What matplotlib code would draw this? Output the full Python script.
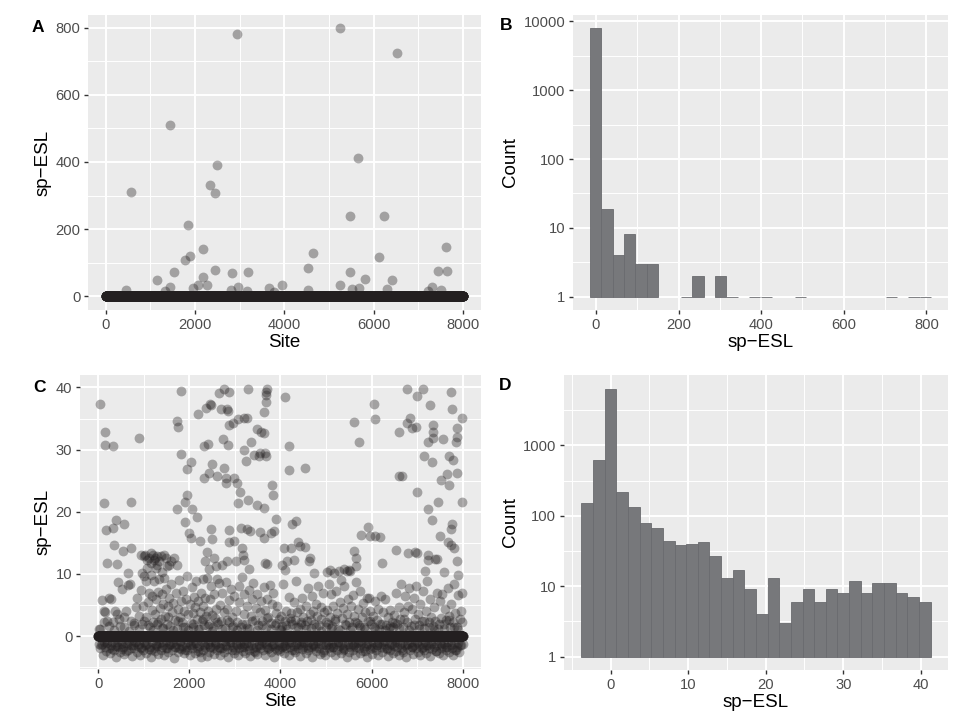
import numpy as np
import matplotlib.pyplot as plt
from matplotlib.ticker import FixedLocator

plt.rcParams['font.family'] = ['Liberation Sans', 'DejaVu Sans']

n_sites = 8000

# ---- Panel A data: sites with non-zero sp-ESL (all other sites are 0) ----
a_points = [
    (2946, 782), (5249, 797.4), (6520, 724), (1436, 510), (2497, 391), (5638, 412),
    (2333, 331), (2445, 307), (553, 311), (1839, 212), (5458, 238), (6221, 238),
    (2183, 142), (7619, 148), (4628, 129), (6124, 116), (1780, 109), (1884, 120),
    (4516, 83), (2440, 80), (1525, 73), (2834, 71), (3178, 73), (5466, 72),
    (7440, 76), (7642, 76), (1137, 48.5), (2176, 57), (5795, 51), (6415, 49.5),
    (456, 20), (1431, 28), (1331, 15), (1944, 24), (2071, 35), (2273, 35),
    (2796, 20), (2950, 27), (3170, 16), (3649, 24), (3948, 33), (3768, 14),
    (4531, 19), (5240, 33), (5511, 23), (5660, 26), (6296, 22), (7298, 27),
    (7515, 20), (7223, 16),
]

# ---- Panel B: histogram of panel A values (bin centres and counts) ----
b_binwidth = 27.52
b_centers = [-0.6, 26.9, 54.4, 81.9, 109.4, 137.0, 219.5, 247.0, 302.1, 329.6,
             384.6, 412.2, 494.7, 714.9, 769.9, 797.4]
b_counts = [7920, 19, 4, 8, 3, 3, 1, 2, 2, 1, 1, 1, 1, 1, 1, 1]

# ---- Panel C data: sites with non-zero sp-ESL (all other sites are 0) ----
c_high = [
    (36, 37.3), (153, 32.8), (146, 30.8), (328, 30.5), (117, 21.4), (168, 17.1),
    (336, 17.4), (394, 18.7), (569, 18.0), (340, 14.6), (555, 13.7), (730, 14.2),
    (715, 21.5), (890, 31.8), (190, 11.8), (409, 11.6), (657, 10.2), (934, 13.0),
    (1022, 13.1), (1080, 12.2), (1007, 12.9), (1117, 12.6), (1197, 13.0), (1241, 12.5),
    (1299, 12.8), (1372, 12.9), (1445, 13.1), (1496, 12.6), (1555, 11.4), (1606, 12.1),
    (1664, 12.5), (1290, 11.4), (1168, 11.7), (1066, 10.9), (971, 10.1), (1518, 11.2),
    (1723, 11.5), (1263, 10.9), (1409, 10.3), (1150, 13.3), (1220, 12.2), (1340, 12.0),
    (1737, 34.6), (1759, 33.7), (1817, 39.5), (1810, 29.3), (1737, 20.5), (1905, 21.6),
    (1956, 22.7), (2036, 28.0), (1950, 26.8), (2051, 20.4), (2000, 16.5), (2040, 15.7),
    (2175, 19.1), (2190, 35.7), (2321, 30.5), (2409, 30.9), (2358, 36.7), (2445, 37.4),
    (2474, 37.2), (2315, 25.4), (2431, 26.3), (2504, 27.7), (2598, 25.7), (2650, 39.1),
    (2686, 36.6), (2744, 31.7), (2766, 39.7), (2832, 36.6), (2876, 39.3), (2847, 36.2),
    (2854, 30.7), (2760, 27.0), (2810, 25.5), (2796, 24.6), (2978, 25.5), (3036, 24.6),
    (2870, 34.0), (2949, 34.2), (3066, 34.9), (3197, 35.1), (3270, 35.1), (3285, 39.8),
    (3190, 29.9), (3241, 28.2), (3358, 31.2), (3416, 29.1), (3489, 33.3), (3562, 32.9),
    (3635, 32.6), (3518, 28.9), (3547, 29.5), (3630, 36.1), (3686, 39.2), (3693, 38.8),
    (3708, 39.7), (3679, 37.7), (3671, 29.5), (3675, 29.0), (3817, 24.3), (3825, 22.7),
    (3898, 18.8), (3640, 20.6), (3474, 21.1), (3285, 21.9), (3117, 23.2), (3060, 21.4),
    (3139, 17.4), (3270, 17.2), (3328, 16.9), (2868, 17.1), (2862, 15.2), (2978, 15.3),
    (2482, 17.3), (2496, 15.6), (2380, 13.6), (2540, 12.5), (2336, 12.0), (2438, 10.8),
    (2584, 11.3), (2723, 11.4), (2832, 12.0), (3015, 12.0), (3161, 14.1), (3182, 13.1),
    (3200, 12.2), (3307, 10.8), (3547, 16.8), (3635, 15.7), (3796, 16.5), (3854, 16.9),
    (3671, 11.8), (3701, 11.6), (4109, 38.5), (4190, 30.5), (4195, 26.7), (4255, 18.0),
    (4343, 18.5), (4380, 15.2), (4233, 14.1), (4073, 14.1), (4146, 12.0), (4036, 11.4),
    (4292, 12.2), (4438, 14.5), (4109, 10.6), (4547, 27.1), (4540, 14.4), (4620, 12.0),
    (4657, 12.5), (4730, 10.1), (1905, 18.4), (2234, 15.3), (5022, 10.3), (5095, 10.6),
    (5168, 10.2), (5277, 10.4), (5387, 10.8), (5460, 10.5), (5496, 10.7), (5533, 10.4),
    (5620, 34.4), (5730, 31.2), (6044, 37.3), (6066, 35.0), (5774, 16.2), (5912, 17.6),
    (5956, 16.1), (6080, 16.1), (6190, 16.0), (5606, 13.7), (5664, 12.5), (5657, 11.2),
    (6233, 11.8), (6540, 13.9), (6598, 32.9), (6591, 25.7), (6657, 25.7), (6774, 39.7),
    (6770, 34.2), (6832, 35.1), (6788, 13.3), (6890, 33.4), (6978, 33.7), (6993, 38.7),
    (6995, 23.2), (6941, 13.6), (6985, 13.3), (7124, 39.7), (7153, 29.0), (7270, 37.2),
    (7233, 31.2), (7343, 33.9), (7350, 32.9), (7357, 31.8), (7321, 28.0), (7230, 20.4),
    (7325, 18.6), (7248, 13.1), (7394, 12.4), (7430, 12.4), (7467, 21.6), (7518, 25.1),
    (7577, 31.7), (7657, 26.0), (7693, 29.0), (7737, 39.2), (7759, 36.5), (7796, 28.3),
    (7701, 24.3), (7740, 17.3), (7766, 18.1), (7686, 15.2), (7735, 14.6), (7810, 14.1),
    (7868, 33.4), (7854, 31.3), (7883, 32.1), (7870, 26.3), (7978, 35.1), (7985, 21.5),
    (7503, 16.1), (7865, 12.0), (7580, 10.3), (7233, 12.2), (7175, 10.5), (7905, 9.8),
]

c_mid = [
    (40, 1.2), (90, 5.8), (120, 4.1), (150, 3.9), (190, 2.5), (230, 6.2), (280, 6.0),
    (330, 2.2), (360, 4.0), (410, 3.5), (440, 8.7), (470, 1.6), (530, 7.5), (560, 3.0),
    (600, 4.0), (650, 8.2), (690, 8.3), (730, 2.4), (780, 1.8), (820, 4.6), (860, 6.1),
    (900, 3.3), (940, 7.4), (970, 2.0), (990, 4.9),
    (1010, 9.6), (1040, 8.9), (1060, 3.0), (1090, 5.5), (1110, 7.0), (1130, 1.4),
    (1150, 9.9), (1170, 4.2), (1190, 6.4), (1210, 2.2), (1230, 8.8), (1250, 3.6),
    (1270, 5.9), (1290, 1.9), (1310, 7.1), (1330, 9.1), (1350, 4.5), (1370, 2.8),
    (1390, 6.8), (1410, 1.3), (1430, 5.1), (1450, 9.4), (1470, 3.3), (1490, 7.6),
    (1510, 2.0), (1530, 4.8), (1550, 6.2), (1570, 1.6), (1600, 8.4), (1620, 3.8),
    (1650, 5.3), (1680, 2.6), (1700, 6.9), (1720, 1.1), (1750, 4.4), (1770, 9.0),
    (1790, 3.1), (1810, 5.7), (1840, 2.3), (1860, 7.2), (1880, 4.0), (1900, 1.5),
    (1930, 6.0), (1950, 9.7), (1980, 3.5),
    (2010, 5.2), (2030, 2.1), (2050, 7.9), (2070, 3.7), (2090, 1.4), (2110, 6.3),
    (2130, 4.6), (2150, 8.8), (2170, 2.7), (2190, 5.6), (2210, 1.2), (2230, 3.9),
    (2250, 7.0), (2270, 2.4), (2290, 4.8), (2310, 9.2), (2330, 1.8), (2350, 6.1),
    (2370, 3.2), (2390, 9.3), (2410, 4.1), (2430, 2.0), (2450, 5.9), (2470, 8.1),
    (2490, 3.4), (2520, 1.5), (2540, 6.7), (2560, 2.9), (2580, 4.3), (2600, 9.1),
    (2620, 1.9), (2650, 8.6), (2680, 5.0), (2700, 2.5), (2720, 6.9), (2750, 3.8),
    (2780, 1.3), (2800, 8.7), (2830, 4.4), (2860, 2.2), (2880, 5.8), (2910, 7.6),
    (2940, 3.1), (2960, 1.6), (2990, 6.4),
    (3020, 4.0), (3050, 2.3), (3080, 8.0), (3100, 5.4), (3130, 1.5), (3160, 9.5),
    (3190, 3.6), (3210, 6.7), (3240, 2.0), (3270, 4.9), (3300, 7.4), (3320, 1.2),
    (3350, 3.3), (3380, 5.9), (3400, 8.6), (3430, 2.6), (3460, 4.5), (3490, 6.8),
    (3510, 1.7), (3540, 3.9), (3570, 5.6), (3600, 2.4), (3630, 7.9), (3650, 4.2),
    (3680, 1.4), (3700, 6.0), (3730, 3.0), (3760, 8.2), (3790, 2.1), (3810, 5.2),
    (3840, 6.9), (3870, 1.8), (3900, 3.7), (3930, 4.9), (3960, 2.7), (3990, 1.2),
    (4010, 3.2), (4040, 1.6), (4060, 8.4), (4090, 2.4), (4120, 4.1), (4150, 1.1),
    (4180, 6.3), (4210, 2.9), (4230, 3.7), (4260, 1.9), (4290, 5.5), (4310, 2.6),
    (4340, 8.9), (4360, 3.9), (4390, 1.4), (4420, 4.4), (4450, 2.2), (4480, 6.1),
    (4500, 3.0), (4530, 1.7), (4560, 4.8), (4590, 2.5), (4610, 7.8), (4640, 3.6),
    (4660, 1.3), (4690, 6.5), (4710, 4.0), (4740, 2.0), (4770, 5.1), (4800, 3.3),
    (4820, 8.0), (4850, 1.8), (4880, 4.6), (4900, 2.8), (4930, 6.9), (4960, 3.9),
    (4990, 1.5),
    (5010, 4.2), (5040, 2.0), (5060, 8.3), (5090, 3.1), (5110, 6.8), (5140, 1.6),
    (5160, 4.9), (5190, 2.5), (5220, 7.3), (5240, 3.7), (5270, 1.2), (5300, 5.4),
    (5320, 9.0), (5350, 2.9), (5380, 4.5), (5400, 8.1), (5430, 1.8), (5460, 3.5),
    (5490, 6.0), (5510, 2.3), (5540, 4.8), (5570, 1.4), (5600, 6.6), (5620, 3.2),
    (5650, 8.7), (5680, 2.1), (5700, 4.4), (5730, 1.7), (5750, 7.2), (5780, 3.0),
    (5810, 5.3), (5840, 1.5), (5860, 3.8), (5890, 6.2), (5910, 2.4), (5940, 6.1),
    (5970, 4.0), (5990, 1.9),
    (6020, 3.3), (6050, 1.5), (6080, 5.6), (6110, 2.6), (6140, 4.4), (6170, 1.2),
    (6200, 6.5), (6230, 2.0), (6260, 3.8), (6290, 5.9), (6320, 1.7), (6350, 3.0),
    (6380, 1.3), (6410, 4.2), (6440, 2.2), (6470, 1.5), (6500, 3.4), (6530, 6.9),
    (6560, 1.9), (6590, 4.7), (6620, 2.8), (6650, 8.4), (6680, 1.4), (6710, 3.9),
    (6740, 6.4), (6770, 2.3), (6800, 4.9), (6830, 7.7), (6860, 1.6), (6890, 4.3),
    (6920, 6.2), (6950, 2.7), (6980, 8.0),
    (7010, 3.6), (7040, 1.8), (7070, 5.2), (7100, 2.5), (7130, 7.3), (7160, 1.3),
    (7190, 4.1), (7220, 8.9), (7250, 2.2), (7280, 6.0), (7310, 3.1), (7340, 1.6),
    (7370, 4.7), (7400, 2.4), (7430, 7.0), (7460, 1.2), (7490, 5.6), (7520, 2.9),
    (7550, 6.8), (7580, 1.9), (7610, 4.4), (7640, 2.6), (7670, 7.8), (7700, 3.3),
    (7720, 1.5), (7750, 5.1), (7780, 2.2), (7810, 8.4), (7840, 3.7), (7870, 1.4),
    (7900, 6.6), (7930, 2.8), (7960, 4.1), (7990, 7.0),
]

c_neg = [
    (12, -1.2), (41, -2.0), (66, -1.5), (95, -3.1), (118, -0.9), (149, -1.7), (171, -2.4), (203, -1.1), (228, -1.9), (259, -2.8),
    (284, -1.4), (310, -0.9), (338, -2.2), (361, -1.6), (392, -3.4), (417, -1.0), (445, -1.8), (470, -2.6), (498, -1.3), (523, -2.1),
    (551, -1.7), (576, -2.9), (604, -1.1), (629, -1.5), (657, -2.3), (682, -0.8), (710, -2.0), (735, -3.2), (763, -1.4), (788, -1.9),
    (815, -1.0), (843, -2.5), (868, -1.6), (896, -1.2), (921, -3.0), (949, -1.8), (974, -2.2), (1002, -0.9), (1027, -1.5), (1055, -2.7),
    (1080, -1.3), (1108, -2.1), (1133, -1.7), (1161, -3.3), (1186, -1.0), (1214, -1.9), (1239, -2.4), (1267, -1.2), (1292, -1.6), (1320, -2.9),
    (1345, -1.1), (1373, -2.3), (1398, -1.8), (1426, -1.4), (1451, -3.1), (1479, -0.9), (1504, -2.0), (1532, -2.6), (1557, -1.5), (1585, -1.2),
    (1610, -2.2), (1638, -1.0), (1663, -3.5), (1691, -1.7), (1716, -1.3), (1744, -2.5), (1769, -1.9), (1797, -0.8), (1822, -2.1), (1850, -1.6),
    (1875, -2.8), (1903, -1.2), (1928, -1.8), (1956, -2.3), (1981, -1.0), (2009, -3.0), (2034, -1.5), (2062, -2.0), (2087, -1.3), (2115, -2.7),
    (2140, -1.1), (2168, -1.9), (2193, -2.4), (2221, -1.6), (2246, -3.3), (2274, -0.9), (2299, -2.2), (2327, -1.4), (2352, -1.8), (2380, -3.2),
    (2405, -1.2), (2433, -2.6), (2458, -1.7), (2486, -1.0), (2511, -2.0), (2539, -2.9), (2564, -1.5), (2592, -1.3), (2617, -2.3), (2645, -1.8),
    (2670, -3.1), (2698, -1.1), (2723, -1.9), (2751, -2.5), (2776, -0.8), (2804, -1.6), (2829, -2.1), (2857, -3.4), (2882, -1.4), (2910, -1.0),
    (2935, -2.2), (2963, -1.7), (2988, -2.8), (3016, -1.2), (3041, -1.5), (3069, -3.0), (3094, -2.0), (3122, -0.9), (3147, -1.8), (3175, -2.4),
    (3200, -1.3), (3228, -2.7), (3253, -1.1), (3281, -1.6), (3306, -2.2), (3334, -3.2), (3359, -1.4), (3387, -1.9), (3412, -1.0), (3440, -2.5),
    (3465, -1.7), (3493, -2.9), (3518, -1.2), (3546, -2.0), (3571, -1.5), (3599, -0.8), (3624, -2.3), (3652, -3.1), (3677, -1.3), (3705, -1.8),
    (3730, -2.1), (3758, -1.0), (3783, -2.6), (3811, -1.6), (3836, -1.2), (3864, -3.3), (3889, -1.9), (3917, -2.2), (3942, -1.4), (3970, -0.9),
    (3995, -2.4), (4023, -1.7), (4048, -1.1), (4076, -2.8), (4101, -1.5), (4129, -2.0), (4154, -1.3), (4182, -3.0), (4207, -1.8), (4235, -1.0),
    (4260, -2.2), (4288, -1.6), (4313, -2.5), (4341, -1.2), (4366, -0.9), (4394, -1.9), (4419, -3.2), (4447, -1.4), (4472, -2.1), (4500, -1.7),
    (4525, -1.1), (4553, -2.7), (4578, -1.5), (4606, -2.3), (4631, -1.0), (4659, -1.8), (4684, -3.4), (4712, -1.3), (4737, -2.0), (4765, -1.6),
    (4790, -2.4), (4818, -0.8), (4843, -1.9), (4871, -2.9), (4896, -1.2), (4924, -1.5), (4949, -2.2), (4977, -3.1), (5002, -1.4), (5030, -1.0),
    (5055, -2.0), (5083, -1.7), (5108, -2.6), (5136, -1.1), (5161, -1.8), (5189, -3.0), (5214, -1.3), (5242, -2.3), (5267, -0.9), (5295, -1.6),
    (5320, -2.8), (5348, -1.2), (5373, -1.9), (5401, -2.1), (5426, -1.4), (5454, -3.3), (5479, -1.0), (5507, -2.5), (5532, -1.7), (5560, -1.2),
    (5585, -2.2), (5613, -1.5), (5638, -3.1), (5666, -1.8), (5691, -1.1), (5719, -2.0), (5744, -2.7), (5772, -1.3), (5797, -0.9), (5825, -1.9),
    (5850, -2.4), (5878, -1.6), (5903, -3.4), (5931, -1.2), (5956, -2.1), (5984, -1.5), (6009, -2.9), (6037, -1.0), (6062, -1.8), (6090, -2.3),
    (6115, -1.4), (6143, -3.0), (6168, -1.1), (6196, -1.7), (6221, -2.5), (6249, -1.3), (6274, -2.0), (6302, -0.8), (6327, -1.9), (6355, -3.2),
    (6380, -1.5), (6408, -2.2), (6433, -1.2), (6461, -2.8), (6486, -1.6), (6514, -1.0), (6539, -2.4), (6567, -1.8), (6592, -3.1), (6620, -1.3),
    (6645, -2.0), (6673, -1.1), (6698, -2.6), (6726, -1.5), (6751, -3.3), (6779, -1.9), (6804, -1.2), (6832, -2.2), (6857, -0.9), (6885, -1.7),
    (6910, -2.9), (6938, -1.4), (6963, -2.0), (6991, -1.1), (7016, -2.5), (7044, -1.6), (7069, -3.0), (7097, -1.3), (7122, -1.8), (7150, -2.3),
    (7175, -1.0), (7203, -2.7), (7228, -1.5), (7256, -1.9), (7281, -3.2), (7309, -1.2), (7334, -2.1), (7362, -1.7), (7387, -0.8), (7415, -2.4),
    (7440, -1.4), (7468, -2.8), (7493, -1.1), (7521, -2.0), (7546, -1.6), (7574, -3.1), (7599, -1.3), (7627, -2.2), (7652, -1.8), (7680, -1.0),
    (7705, -2.6), (7733, -1.5), (7758, -1.9), (7786, -3.0), (7811, -1.2), (7839, -2.3), (7864, -1.7), (7892, -1.1), (7917, -2.5), (7945, -1.4),
]

# values hugging the zero band (just above and below it)
c_near = [
    (25, 1.1), (79, -1.3), (133, 2.2), (188, -0.9), (241, 1.6), (297, -2.1), (352, 0.9), (405, -1.6), (459, 2.7), (514, -1.1),
    (566, 1.4), (621, -2.4), (675, 0.8), (728, -1.4), (782, 2.1), (836, -0.9), (889, 1.2), (943, -1.9), (997, 2.5), (1051, -1.2),
    (1104, 1.7), (1158, -2.2), (1212, 0.9), (1265, -1.5), (1319, 2.3), (1373, -1.0), (1426, 1.3), (1481, -2.0), (1534, 3.0), (1589, -1.3),
    (1642, 1.0), (1697, -1.7), (1751, 2.4), (1804, -0.9), (1858, 1.5), (1913, -2.3), (1966, 0.9), (2021, -1.4), (2074, 2.0), (2129, -1.1),
    (2182, 1.2), (2237, -2.6), (2291, 2.8), (2344, -1.2), (2399, 1.6), (2453, -1.8), (2506, 0.8), (2561, -1.0), (2614, 2.2), (2669, -2.0),
    (2722, 1.1), (2777, -1.5), (2831, 2.6), (2884, -0.9), (2939, 1.4), (2993, -2.2), (3046, 0.9), (3101, -1.3), (3154, 2.0), (3209, -1.7),
    (3262, 1.3), (3317, -1.1), (3371, 2.5), (3424, -2.4), (3479, 1.0), (3533, -1.4), (3586, 1.8), (3641, -0.9), (3694, 2.9), (3749, -1.9),
    (3802, 1.2), (3857, -1.2), (3911, 2.1), (3964, -2.1), (4019, 0.9), (4073, -1.6), (4126, 1.7), (4181, -1.0), (4234, 2.4), (4289, -2.3),
    (4342, 1.4), (4397, -1.3), (4451, 2.0), (4504, -0.9), (4559, 1.1), (4613, -2.0), (4666, 2.6), (4721, -1.4), (4774, 1.5), (4829, -1.1),
    (4882, 0.8), (4937, -2.5), (4991, 2.2), (5044, -1.2), (5099, 1.3), (5153, -1.8), (5206, 2.8), (5261, -1.0), (5314, 1.0), (5369, -2.2),
    (5422, 1.9), (5477, -1.3), (5531, 0.9), (5584, -1.6), (5639, 2.3), (5693, -0.9), (5746, 1.4), (5801, -2.4), (5854, 1.1), (5909, -1.1),
    (5962, 2.5), (6017, -1.9), (6071, 1.2), (6124, -1.4), (6179, 2.0), (6233, -1.0), (6286, 0.9), (6341, -2.1), (6394, 1.6), (6449, -1.3),
    (6502, 2.1), (6557, -0.9), (6611, 1.3), (6664, -2.3), (6719, 2.7), (6773, -1.2), (6826, 1.0), (6881, -1.7), (6934, 1.8), (6989, -1.0),
    (7042, 1.1), (7097, -2.0), (7151, 2.4), (7204, -1.4), (7259, 1.5), (7313, -1.1), (7366, 0.9), (7421, -2.4), (7474, 2.0), (7529, -1.3),
    (7582, 1.2), (7637, -1.8), (7691, 2.6), (7744, -0.9), (7799, 1.4), (7853, -2.2), (7906, 1.0), (7961, -1.5), (7988, 2.2), (7998, -1.2),
]

# ---- Panel D: histogram of panel C values (bin centres and counts) ----
d_binwidth = 1.5
d_centers = [-3.0, -1.5, 0.0, 1.5, 3.0, 4.5, 6.0, 7.5, 9.0, 10.5, 12.0, 13.5, 15.0, 16.5, 18.0,
             19.5, 21.0, 22.5, 24.0, 25.5, 27.0, 28.5, 30.0, 31.5, 33.0, 34.5, 36.0, 37.5, 39.0, 40.5]
d_counts = [150, 627, 6430, 215, 133, 79, 67, 44, 39, 40, 43, 27, 13, 17, 9,
            4, 13, 3, 6, 9, 6, 9, 8, 12, 8, 11, 11, 8, 7, 6]


def full_series(points):
    # every site has a value; the ones not listed are 0
    xs = np.array([p[0] for p in points])
    ys = np.array([p[1] for p in points])
    all_sites = np.arange(1, n_sites + 1)
    zero_sites = np.setdiff1d(all_sites, xs)
    x = np.concatenate([zero_sites, xs])
    y = np.concatenate([np.zeros(len(zero_sites)), ys])
    return x, y


point_col = '#231f20'
bar_fill = '#77787b'
bar_edge = '#6a6b6f'
tick_col = '#4d4d4d'
msize = 50


def style(ax, xmaj, xmin, ymaj, ymin):
    ax.set_facecolor('#ebebeb')
    for s in ax.spines.values():
        s.set_visible(False)
    ax.xaxis.set_major_locator(FixedLocator(xmaj))
    ax.xaxis.set_minor_locator(FixedLocator(xmin))
    ax.yaxis.set_major_locator(FixedLocator(ymaj))
    ax.yaxis.set_minor_locator(FixedLocator(ymin))
    ax.grid(which='major', color='white', linewidth=1.4)
    ax.grid(which='minor', color='white', linewidth=0.7)
    ax.set_axisbelow(True)
    ax.tick_params(which='major', length=3.0, width=1.0, color='#333333',
                   labelcolor=tick_col, labelsize=10.6, pad=2.5)
    ax.tick_params(which='minor', length=0)


def px_axes(fig, left, top, right, bottom):
    W, H = 974, 728
    return fig.add_axes([left / W, 1 - bottom / H, (right - left) / W, (bottom - top) / H])


fig = plt.figure(figsize=(9.74, 7.28), dpi=100)

# A
ax = px_axes(fig, 88, 15, 481, 310)
x, y = full_series(a_points)
ax.scatter(x, y, s=msize, color=point_col, alpha=0.36, linewidths=0)
ax.set_xlim(-399, 8400)
ax.set_ylim(-40.5, 837.3)
style(ax, [0, 2000, 4000, 6000, 8000], [1000, 3000, 5000, 7000],
      [0, 200, 400, 600, 800], [100, 300, 500, 700])
ax.set_xlabel('Site', fontsize=13.5, labelpad=2)
ax.set_ylabel('sp\u2212ESL', fontsize=13.5, labelpad=3)

# B
ax = px_axes(fig, 573, 15, 948, 310)
ax.set_yscale('log')
ax.bar(b_centers, np.array(b_counts) - 1, bottom=1, width=b_binwidth,
       color=bar_fill, edgecolor=bar_edge, linewidth=0.6)
ax.set_xlim(-55.7, 852.5)
ax.set_ylim(10 ** -0.195, 10 ** 4.094)
style(ax, [0, 200, 400, 600, 800], [100, 300, 500, 700],
      [1, 10, 100, 1000, 10000], [10 ** 0.5, 10 ** 1.5, 10 ** 2.5, 10 ** 3.5])
ax.set_yticklabels(['1', '10', '100', '1000', '10000'])
ax.set_xlabel('sp\u2212ESL', fontsize=13.5, labelpad=2)
ax.set_ylabel('Count', fontsize=13.5, labelpad=3)

# C
ax = px_axes(fig, 80, 375, 481, 669)
x, y = full_series(c_high + c_mid + c_neg + c_near)
ax.scatter(x, y, s=msize, color=point_col, alpha=0.36, linewidths=0)
ax.set_xlim(-399, 8400)
ax.set_ylim(-5.3, 42.0)
style(ax, [0, 2000, 4000, 6000, 8000], [1000, 3000, 5000, 7000],
      [0, 10, 20, 30, 40], [-5, 5, 15, 25, 35])
ax.set_xlabel('Site', fontsize=13.5, labelpad=2)
ax.set_ylabel('sp\u2212ESL', fontsize=13.5, labelpad=3)

# D
ax = px_axes(fig, 564, 375, 948, 670)
ax.set_yscale('log')
ax.bar(d_centers, np.array(d_counts) - 1, bottom=1, width=d_binwidth,
       color=bar_fill, edgecolor=bar_edge, linewidth=0.6)
ax.set_xlim(-6.0, 43.5)
ax.set_ylim(10 ** -0.19, 10 ** 4.0)
style(ax, [0, 10, 20, 30, 40], [-5, 5, 15, 25, 35],
      [1, 10, 100, 1000], [10 ** 0.5, 10 ** 1.5, 10 ** 2.5, 10 ** 3.5])
ax.set_yticklabels(['1', '10', '100', '1000'])
ax.set_xlabel('sp\u2212ESL', fontsize=13.5, labelpad=2)
ax.set_ylabel('Count', fontsize=13.5, labelpad=3)

# panel letters
for lab, px, py in [('A', 32, 27), ('B', 500, 26), ('C', 33, 387), ('D', 499, 386)]:
    fig.text(px / 974, 1 - py / 728, lab, fontsize=12.5, fontweight='bold',
             ha='left', va='center')

fig.savefig('out.png', dpi=100)
